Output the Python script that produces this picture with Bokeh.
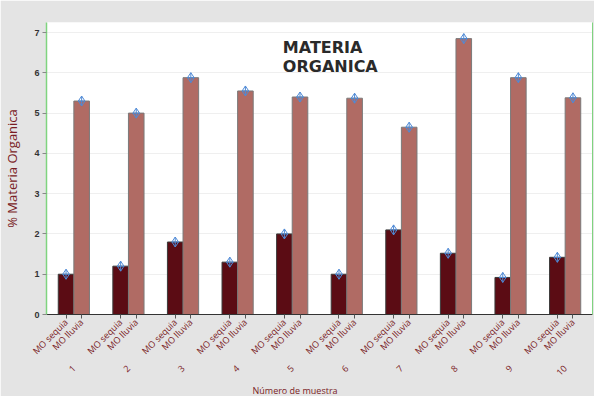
import math
from bokeh.plotting import figure
from bokeh.models import (FactorRange, ColumnDataSource, LinearAxis, Label,
                          SingleIntervalTicker, Range1d, FixedTicker)
from bokeh.embed import file_html
from bokeh.resources import INLINE

groups = [str(i) for i in range(1, 11)]
types = ["MO sequia", "MO lluvia"]
sequia = [1.0, 1.2, 1.8, 1.3, 2.0, 1.0, 2.1, 1.52, 0.92, 1.42]
lluvia = [5.3, 5.0, 5.88, 5.55, 5.4, 5.37, 4.65, 6.85, 5.88, 5.38]
type_colors = {"MO sequia": "#5b0c14", "MO lluvia": "#b06b64"}
type_lines = {"MO sequia": "#3a3a3a", "MO lluvia": "#7a7a7a"}

xs, vals, cols, lcols = [], [], [], []
for g, s, l in zip(groups, sequia, lluvia):
    for t, v in zip(types, (s, l)):
        xs.append((g, t))
        vals.append(v)
        cols.append(type_colors[t])
        lcols.append(type_lines[t])

src = ColumnDataSource(dict(x=xs, v=vals, c=cols, lc=lcols))

RED = "#7a1c24"
GRAY = "#e4e4e4"

p = figure(
    width=594, height=396,
    x_range=FactorRange(*xs, factor_padding=0, group_padding=1.5, range_padding=0.045),
    y_range=Range1d(0, 7.25),
    output_backend="svg", toolbar_location=None,
    title="Número de muestra", title_location="below",
    min_border_left=39, min_border_top=22, min_border_right=2, min_border_bottom=1,
)
p.border_fill_color = GRAY
p.background_fill_color = "white"
p.outline_line_color = None

p.title.text_font = "Open Sans"
p.title.text_font_size = "9px"
p.title.text_font_style = "normal"
p.title.text_color = RED
p.title.align = "left"
p.title.offset = 206
p.title.standoff = 0

p.vbar(x="x", top="v", width=1.0, source=src, fill_color="c", line_color="lc", line_width=1)
p.scatter(x="x", y="v", source=src, marker="diamond_cross", size=10,
          line_color="#4f8ad6", fill_alpha=0, line_width=1)

p.xgrid.grid_line_color = None
p.ygrid.grid_line_color = "#efefef"

xa = p.xaxis[0]
xa.major_label_orientation = math.pi / 4
xa.group_label_orientation = math.pi / 4
xa.major_label_text_font_size = "9px"
xa.major_label_text_color = RED
xa.major_label_text_font = "Open Sans"
xa.major_label_standoff = 2
xa.group_text_font_size = "9px"
xa.group_text_color = RED
xa.group_text_font = "Open Sans"
xa.group_text_font_style = "normal"
xa.separator_line_alpha = 0
xa.major_tick_in = 0
xa.major_tick_out = 4
xa.major_tick_line_color = "#555555"
xa.axis_line_color = "#333333"

ya = p.yaxis[0]
ya.ticker = SingleIntervalTicker(interval=1)
ya.minor_tick_line_color = None
ya.major_tick_in = 0
ya.major_tick_out = 4
ya.major_tick_line_color = "#888888"
ya.major_label_standoff = 3
ya.axis_line_color = "#7fd47f"
ya.axis_line_width = 1.5
ya.major_label_text_font_size = "9px"
ya.major_label_text_font_style = "bold"
ya.major_label_text_color = "#333333"
ya.axis_label = "% Materia Organica"
ya.axis_label_text_font = "Open Sans"
ya.axis_label_text_font_size = "13px"
ya.axis_label_text_font_style = "normal"
ya.axis_label_text_color = RED
ya.axis_label_standoff = 10

ra = LinearAxis(ticker=FixedTicker(ticks=[]), major_tick_line_color=None,
                minor_tick_line_color=None, axis_line_color="#7fd47f")
p.add_layout(ra, "right")

for txt, yv in (("MATERIA", 6.64), ("ORGANICA", 6.16)):
    p.add_layout(Label(x=14.4, y=yv, text=txt, text_font="DejaVu Sans",
                       text_font_style="bold", text_font_size="16px",
                       text_color="#2a2a2a", text_baseline="alphabetic"))

open("out.html", "w").write(file_html(p, INLINE))
